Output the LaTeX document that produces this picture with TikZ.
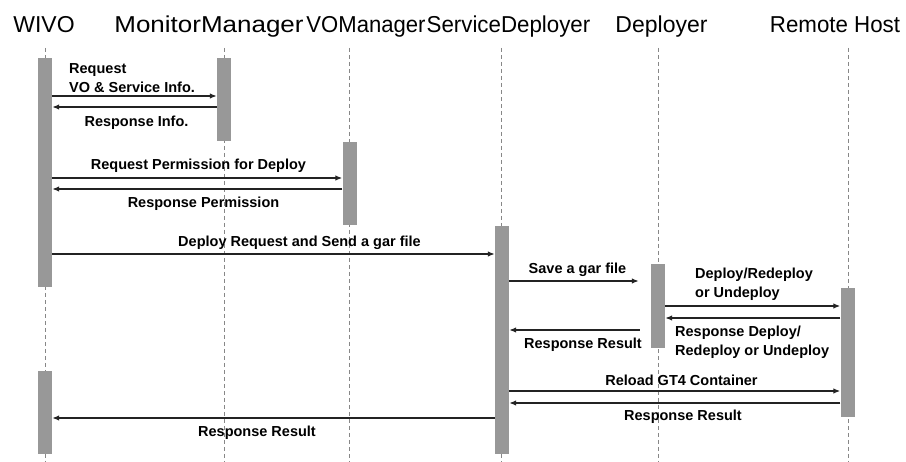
\documentclass[tikz,border=0pt]{standalone}
\usepackage{graphicx}
\usepackage{fontspec}
\setmainfont{Liberation Sans}
\usetikzlibrary{arrows.meta}
\begin{document}
\begin{tikzpicture}[x=1pt,y=-1pt]
	\definecolor{xam}{RGB}{152,152,152}
	\definecolor{xamnet}{RGB}{135,135,135}
	\definecolor{den}{RGB}{35,35,35}
	\tikzset{
		tieude/.style={font=\fontsize{23}{27}\selectfont, anchor=base, inner sep=0},
		thanh/.style={fill=xam, draw=none, minimum width=14pt, inner sep=0, anchor=north},
		duongdoi/.style={xamnet, line width=0.8pt, dash pattern=on 4pt off 3pt},
		tin/.style={den, line width=1.3pt, -{Latex[length=7pt,width=5.5pt]}},
		nhan/.style={font=\fontsize{14.5}{19}\selectfont\bfseries, inner sep=0, align=left}
	}
	\useasboundingbox (0,0) rectangle (906,462);
	
	%Tiêu đề
	\foreach \cx/\ma/\ten/\co in {44/wivo/WIVO/1, 209/mon/MonitorManager/1.13, 366/vo/VOManager/0.96, 508.5/sd/ServiceDeployer/0.97, 661.5/dep/Deployer/1, 835/rh/Remote Host/0.97}{
		\node[tieude] (t\ma) at (\cx,33) {\scalebox{\co}[1]{\ten}};
	}
	
	%Đường nét đứt
	\foreach \x/\ma in {45/wivo, 224/mon, 349/vo, 501/sd, 658/dep, 848/rh}{
		\coordinate (d\ma) at (\x,48);
		\coordinate (c\ma) at (\x,462);
		\draw[duongdoi] (d\ma) -- (c\ma);
	}
	
	%Thanh kích hoạt
	\node[thanh, minimum height=229pt] (wivoA) at (45,58) {};
	\node[thanh, minimum height=83pt] (wivoB) at (45,371) {};
	\node[thanh, minimum height=83pt] (monA) at (224,58) {};
	\node[thanh, minimum height=83pt] (voA) at (349.5,142) {};
	\node[thanh, minimum height=228pt] (sdA) at (502,226) {};
	\node[thanh, minimum height=84pt] (depA) at (658,264) {};
	\node[thanh, minimum height=129pt] (rhA) at (847.5,288) {};
	
	%Thông điệp
	\foreach \tu/\den/\y/\sa/\sb in {
		wivoA.east/monA.west/96/0/0,
		monA.west/wivoA.east/107/0/0,
		wivoA.east/voA.west/178/0/0,
		voA.west/wivoA.east/189/0/0,
		wivoA.east/sdA.west/254/0/0,
		sdA.east/depA.west/281/0/12,
		depA.east/rhA.west/306/0/0,
		rhA.west/depA.east/318/0/0,
		depA.west/sdA.east/330/11/0,
		sdA.east/rhA.west/391/0/0,
		rhA.west/sdA.east/403/0/0,
		sdA.west/wivoB.east/418/0/0
	}{
		\draw[tin, shorten <=\sa pt, shorten >=\sb pt] (\tu |- 0,\y) -- (\den |- 0,\y);
	}
	
	%Nhãn
	\node[nhan, anchor=west] (n1) at (69,78) {Request\\VO \& Service Info.};
	\node[nhan] (n2) at (136.5,123) {Response Info.};
	\node[nhan] (n3) at (198.5,166) {Request Permission for Deploy};
	\node[nhan] (n4) at (203.5,204) {Response Permission};
	\node[nhan] (n5) at (299.5,243) {Deploy Request and Send a gar file};
	\node[nhan] (n6) at (577.5,270) {Save a gar file};
	\node[nhan, anchor=west] (n7) at (695,284.5) {Deploy/Redeploy\\or Undeploy};
	\node[nhan, anchor=west] (n8) at (675,342.5) {Response Deploy/\\Redeploy or Undeploy};
	\node[nhan] (n9) at (583,345) {Response Result};
	\node[nhan] (n10) at (681.5,380) {Reload GT4 Container};
	\node[nhan] (n11) at (683,417) {Response Result};
	\node[nhan] (n12) at (257,433) {Response Result};
\end{tikzpicture}
\end{document}
